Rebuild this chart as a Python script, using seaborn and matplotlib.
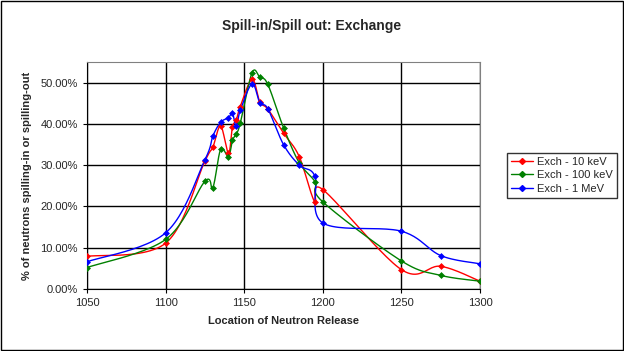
import numpy as np
import pandas as pd
import matplotlib.pyplot as plt
from matplotlib.lines import Line2D
from matplotlib.patches import Rectangle
import seaborn as sns

# Data (% of neutrons)
location = [1050, 1100, 1125, 1130, 1135, 1140, 1142.5, 1145, 1147.5, 1155,
            1160, 1165, 1175, 1185, 1195, 1200, 1250, 1275, 1300]
exch_10kev = [7.9, 11.1, 31.0, 34.3, 39.5, 32.9, 39.2, 41.0, 44.2, 50.8,
              45.3, 43.6, 37.8, 32.1, 21.0, 24.1, 4.7, 5.5, 1.9]
exch_100kev = [5.2, 12.0, 26.1, 24.5, 33.8, 32.1, 36.0, 37.6, 40.2, 52.4,
               51.3, 49.6, 39.1, 30.6, 26.0, 21.1, 6.8, 3.3, 1.9]
exch_1mev = [6.6, 13.6, 31.3, 37.0, 40.4, 41.5, 42.6, 39.4, 43.3, 49.7,
             45.1, 43.7, 35.0, 30.0, 27.3, 16.0, 14.0, 8.1, 6.1]

series = {
    "Exch - 10 keV": (exch_10kev, "#FF0000"),
    "Exch - 100 keV": (exch_100kev, "#008000"),
    "Exch - 1 MeV": (exch_1mev, "#0000FF"),
}

sns.set_style("white")
plt.rcParams['font.family'] = ['Liberation Sans', 'DejaVu Sans']

XMIN, XMAX, YMIN, YMAX = 1050, 1300, 0.0, 0.55
# scale factors so smoothing is done in (roughly) screen space
SX, SY = 393 / (XMAX - XMIN), 227 / (YMAX - YMIN)


def excel_smooth(xs, ys, n=24):
    # Excel-style smoothed line: cubic Bezier with control points from neighbours
    p = np.column_stack([(np.asarray(xs) - XMIN) * SX, np.asarray(ys) * SY])
    m = len(p)
    out = []
    for i in range(m - 1):
        p0 = p[max(i - 1, 0)]
        p1, p2 = p[i], p[i + 1]
        p3 = p[min(i + 2, m - 1)]
        c1 = p1 + (p2 - p0) / 6
        c2 = p2 - (p3 - p1) / 6
        t = np.linspace(0, 1, n, endpoint=(i == m - 2))[:, None]
        seg = ((1 - t) ** 3) * p1 + 3 * ((1 - t) ** 2) * t * c1 + 3 * (1 - t) * t ** 2 * c2 + t ** 3 * p2
        out.append(seg)
    out = np.vstack(out)
    return out[:, 0] / SX + XMIN, out[:, 1] / SY


fig = plt.figure(figsize=(6.24, 3.51), dpi=100)
ax = fig.add_axes([87 / 624, 1 - 289 / 351, (480 - 87) / 624, (289 - 62) / 351])

handles = []
for name, (vals, color) in series.items():
    frac = [v / 100 for v in vals]
    sx, sy = excel_smooth(location, frac)
    smooth_df = pd.DataFrame({"x": sx, "y": sy})
    sns.lineplot(data=smooth_df, x="x", y="y", sort=False, estimator=None,
                 color=color, linewidth=1, ax=ax, legend=False)
    pts = pd.DataFrame({"x": location, "y": frac})
    sns.scatterplot(data=pts, x="x", y="y", marker="D", s=9, color=color,
                    edgecolor=color, linewidth=0.5, ax=ax, legend=False, zorder=3)
    handles.append(Line2D([0], [0], color=color, lw=1, marker="D", markersize=3, label=name))

ax.set_xlim(XMIN, XMAX)
ax.set_ylim(YMIN, YMAX)
ax.set_xticks(range(1050, 1301, 50))
ax.set_yticks(np.arange(0, 0.51, 0.1))
ax.set_yticklabels([f"{v * 100:.2f}%" for v in np.arange(0, 0.51, 0.1)])
ax.grid(True, color="black", linewidth=1)
ax.tick_params(axis="both", labelsize=8, length=3, direction="out", color="black",
               bottom=True, left=True)
for side in ["left", "bottom"]:
    ax.spines[side].set_color("black")
for side in ["top", "right"]:
    ax.spines[side].set_color("#808080")

ax.set_xlabel("Location of Neutron Release", fontsize=8, fontweight="bold", labelpad=6)
ax.set_ylabel("% of neutrons spilling-in or spilling-out", fontsize=8, fontweight="bold", labelpad=6)
fig.text(0.5, 1 - 26 / 351, "Spill-in/Spill out: Exchange", ha="center", va="center",
         fontsize=10, fontweight="bold")

leg = fig.legend(handles=handles, loc="upper left", bbox_to_anchor=(501 / 624, 1 - 147 / 351),
                 fontsize=8, frameon=True, fancybox=False, borderpad=0.4,
                 handlelength=2.0, handletextpad=0.3, labelspacing=0.3)
leg.get_frame().set_edgecolor("black")
leg.get_frame().set_linewidth(1)

fig.patches.append(Rectangle((0.001, 0.002), 0.997, 0.995, transform=fig.transFigure,
                             fill=False, edgecolor="black", linewidth=1))

plt.savefig("out.png", dpi=100)
